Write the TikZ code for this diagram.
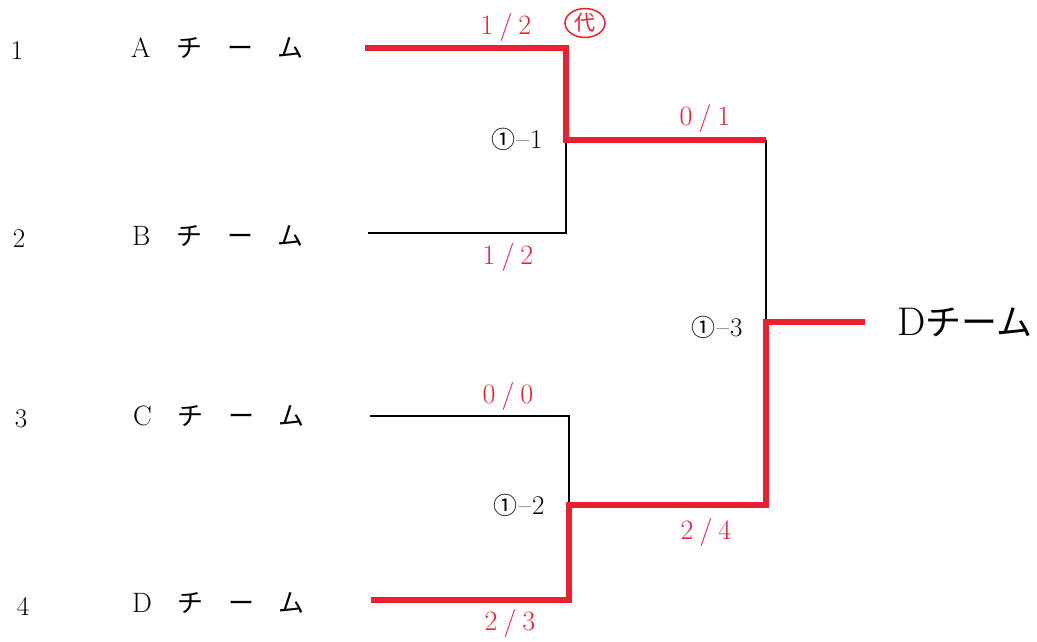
\documentclass[tikz,border=0pt]{standalone}
\usepackage{fontspec}
\usetikzlibrary{shapes.geometric}
\newfontfamily\jp{Noto Sans CJK JP}
\definecolor{bred}{RGB}{232,32,48}
\begin{document}
\begin{tikzpicture}[x=1pt,y=-1pt,
  num/.style={font=\fontsize{27}{29}\selectfont, anchor=center},
  team/.style={font=\fontsize{28}{30}\selectfont, anchor=center, inner sep=0pt},
  score/.style={font=\fontsize{28}{30}\selectfont, text=bred, anchor=center, inner sep=1pt},
  match/.style={font=\fontsize{27}{29}\selectfont, anchor=center, inner sep=1pt},
  win/.style={draw=bred, line width=6.5pt, line join=miter},
  lose/.style={draw=black, line width=1.4pt}]
\useasboundingbox (0,0) rectangle (1037,642);
% row numbers
\node[num] (n1) at (17,51) {1};
\node[num] (n2) at (19,239) {2};
\node[num] (n3) at (21,419) {3};
\node[num] (n4) at (23,606) {4};
% team names
\newcommand{\kana}{\hspace{26pt}{\jp\fontsize{26}{28}\selectfont チ}\hspace{25pt}{\jp\fontsize{26}{28}\selectfont ー}\hspace{24pt}{\jp\fontsize{26}{28}\selectfont ム}}
\node[team, anchor=west] (tA) at (131,48) {A\kana};
\node[team, anchor=west] (tB) at (132,236) {B\kana};
\node[team, anchor=west] (tC) at (133,416) {C\kana};
\node[team, anchor=west] (tD) at (132,603) {D\kana};
% bracket coordinates
\coordinate (a0) at (365,48);
\coordinate (a1) at (566,48);
\coordinate (m1) at (566,140);
\coordinate (b0) at (368,233);
\coordinate (b1) at (566,233);
\coordinate (s1) at (766,140);
\coordinate (m3) at (766,322);
\coordinate (f) at (865,322);
\coordinate (c0) at (370,416);
\coordinate (c1) at (569,416);
\coordinate (m2) at (569,505);
\coordinate (s2) at (766,505);
\coordinate (d0) at (371,600);
\coordinate (d1) at (569,600);
% losing (black) lines
\draw[lose] (b0) -- (b1) -- (m1);
\draw[lose] (s1) -- (m3);
\draw[lose] (c0) -- (c1) -- (m2);
% winning (red) lines
\draw[win] (a0) -- (a1) -- (m1) -- (s1);
\draw[win] (d0) -- (d1) -- (m2) -- (s2) -- (m3) -- (f);
% scores
\node[score] (sA) at (506,28) {1\hspace{6pt}/\hspace{6pt}2};
\node[ellipse, draw=bred, line width=1.5pt, inner sep=0pt, minimum width=40pt, minimum height=29pt, text=bred, font=\jp\fontsize{21}{22}\selectfont] (dai) at (585,23) {代};
\node[score] (sB) at (508,257) {1\hspace{6pt}/\hspace{6pt}2};
\node[score] (s01) at (705,118) {0\hspace{6pt}/\hspace{6pt}1};
\node[score] (sC) at (508,396) {0\hspace{6pt}/\hspace{6pt}0};
\node[score] (s24) at (706,532) {2\hspace{6pt}/\hspace{6pt}4};
\node[score] (sD) at (510,623) {2\hspace{6pt}/\hspace{6pt}3};
% match labels
\node[match] (l1) at (517,139) {{\jp\fontsize{24}{24}\selectfont ①}\hspace{1pt}–\hspace{1pt}1};
\node[match] (l2) at (519,505) {{\jp\fontsize{24}{24}\selectfont ①}\hspace{1pt}–\hspace{1pt}2};
\node[match] (l3) at (717,327) {{\jp\fontsize{24}{24}\selectfont ①}\hspace{1pt}–\hspace{1pt}3};
% winner
\node[font=\fontsize{40}{42}\selectfont, anchor=west, inner sep=0pt] (win) at (897,322) {D{\jp\fontsize{36}{38}\selectfont チーム}};
\end{tikzpicture}
\end{document}
